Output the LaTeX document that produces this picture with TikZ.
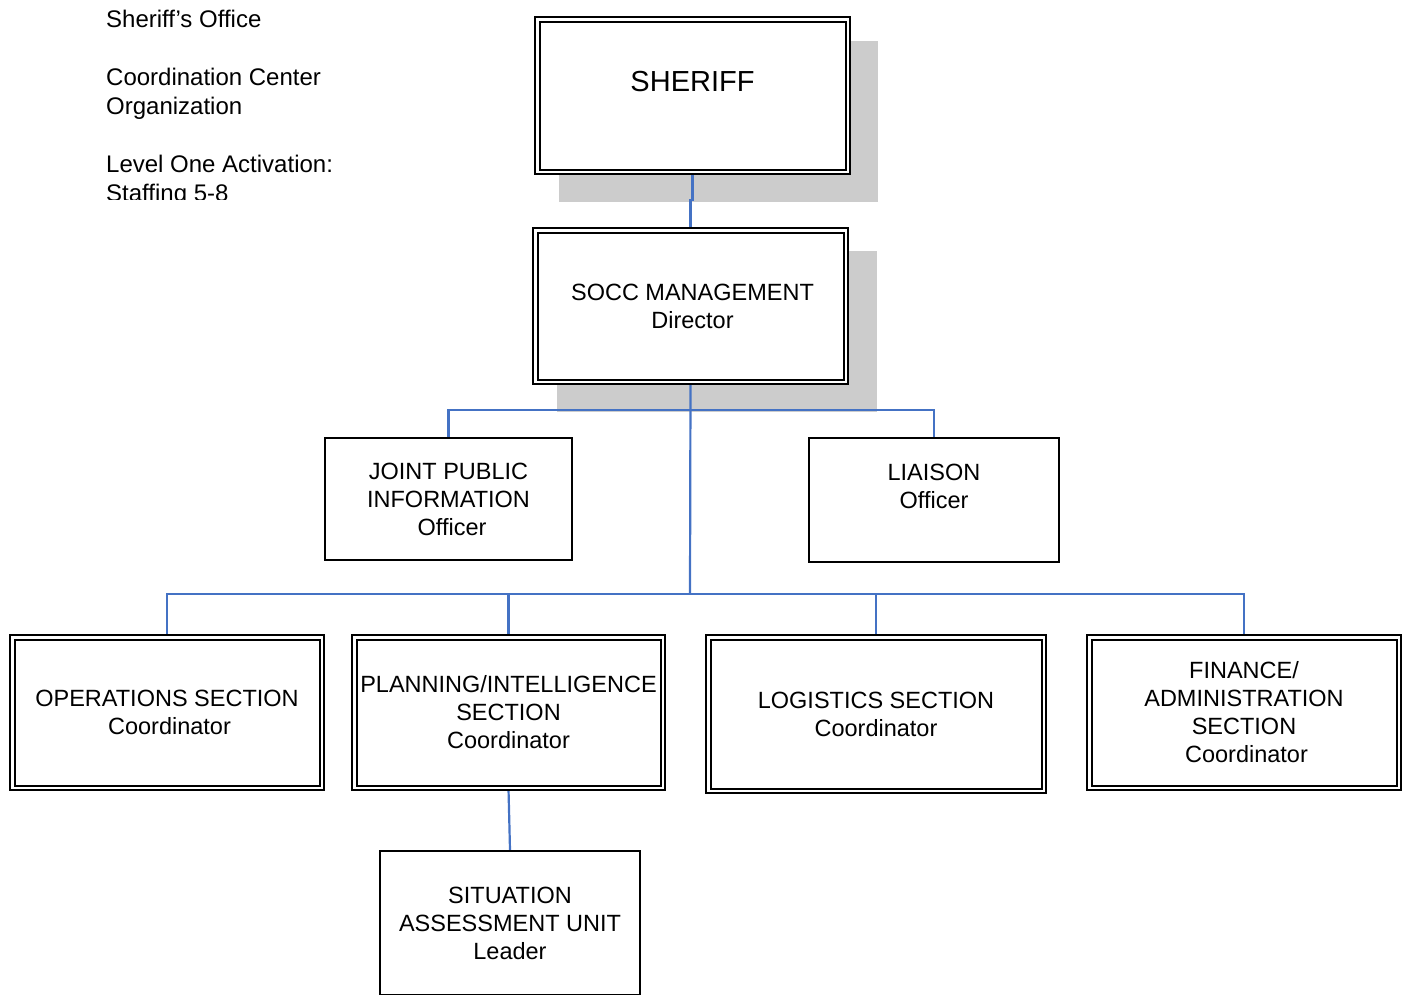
\documentclass[tikz,border=0pt]{standalone}
\usepackage{fontspec}
\setmainfont{Liberation Sans}
\pgfdeclarelayer{bg}
\pgfdeclarelayer{mid}
\pgfsetlayers{bg,mid,main}
\definecolor{linkblue}{HTML}{4472C4}
\definecolor{shadowgray}{HTML}{CCCCCC}
\begin{document}
\begin{tikzpicture}[x=1pt,y=-1pt,
  txt/.style={font=\fontsize{23.5}{28}\selectfont, align=center},
  dblbox/.style={draw, fill=white, line width=2pt, double, double distance=2.5pt, inner sep=0pt, txt},
  sglbox/.style={draw, fill=white, line width=2pt, inner sep=0pt, txt},
  conn/.style={draw=linkblue, line width=2.2pt},
  shade/.style={fill=shadowgray}]
\useasboundingbox (0,0) rectangle (1405,994);

% title block (clipped at the bottom as in the reference)
\begin{scope}
\clip (0,0) rectangle (600,199);
\node[anchor=north west, inner sep=0pt, align=left, font=\fontsize{24}{29}\selectfont] (title) at (106,10)
  {Sheriff’s Office\\[29pt]Coordination Center\\Organization\\[29pt]Level One Activation:\\Staffing 5-8};
\end{scope}

% boxes
\node[dblbox, minimum width=310.5pt, minimum height=152.5pt, font=\fontsize{29}{29}\selectfont] (sheriff) at (692.5,95.5) {SHERIFF\\\mbox{}};
\node[dblbox, minimum width=310.5pt, minimum height=151.5pt] (socc) at (690.5,306) {\hspace*{4pt}SOCC MANAGEMENT\\\hspace*{4pt}Director};
\node[sglbox, minimum width=247pt, minimum height=122pt] (jpi) at (448.5,499) {JOINT PUBLIC\\INFORMATION\\\hspace*{7pt}Officer};
\node[sglbox, minimum width=250pt, minimum height=124pt] (liaison) at (934,500) {LIAISON\\Officer\\\mbox{}};
\node[dblbox, minimum width=309.5pt, minimum height=150.5pt] (ops) at (167,712.5) {OPERATIONS SECTION\\\hspace*{5pt}Coordinator};
\node[dblbox, minimum width=308.5pt, minimum height=150.5pt] (plan) at (508.5,712.5) {PLANNING/INTELLIGENCE\\SECTION\\Coordinator};
\node[dblbox, minimum width=335.5pt, minimum height=153.5pt] (log) at (876,714) {LOGISTICS SECTION\\Coordinator};
\node[dblbox, minimum width=309.5pt, minimum height=150.5pt] (fin) at (1244,712.5) {FINANCE/\\ADMINISTRATION\\SECTION\\\hspace*{5pt}Coordinator};
\node[sglbox, minimum width=260pt, minimum height=144pt] (sit) at (510,923) {SITUATION\\ASSESSMENT UNIT\\Leader};

% shadows
\begin{pgfonlayer}{bg}
\fill[shade] ([shift={(22.75,22.75)}]sheriff.north west) rectangle ([shift={(29.25,29.25)}]sheriff.south east);
\fill[shade] ([shift={(22.75,21.75)}]socc.north west) rectangle ([shift={(30.25,29.25)}]socc.south east);
\end{pgfonlayer}

% connectors
\coordinate (busA) at (690,410);
\coordinate (busB) at (690,594);
\begin{pgfonlayer}{mid}
\draw[conn] (sheriff.south) -- ++(0,27) -| (socc.north);
\draw[conn] (socc.south) -- (busB);
\draw[conn] (jpi.north) |- (busA) -| (liaison.north);
\draw[conn] (ops.north) |- (busB) -| (fin.north);
\draw[conn] (plan.north) -- (plan.north |- busB);
\draw[conn] (log.north) -- (log.north |- busB);
\draw[conn] (plan.south) -- (sit.north);
\end{pgfonlayer}
\end{tikzpicture}
\end{document}
